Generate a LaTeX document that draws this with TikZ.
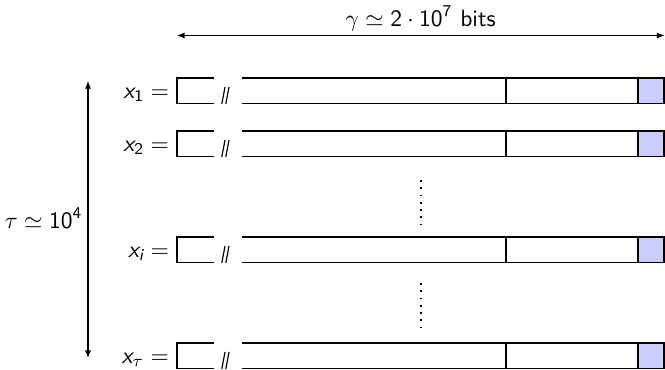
\documentclass[tikz,border=0pt]{standalone}
\usepackage{amsmath}
\usetikzlibrary{arrows.meta}
\newcommand\svar[1]{\text{\sffamily\itshape #1}}
\newcommand\drawrow[3]{%
  \fill[lastcell] (638,#1) rectangle (664,#1+25.5);
  \draw[rowline] (214,#1) -- (177,#1) -- (177,#1+25.5) -- (214,#1+25.5);
  \draw[rowline] (242,#1) -- (664,#1) -- (664,#1+25.5) -- (242,#1+25.5);
  \draw[rowline] (506,#1) -- (506,#1+25.5);
  \draw[rowline] (638,#1) -- (638,#1+25.5);
  \draw[slashline] (221.8,#1+26) -- (225,#1+9);
  \draw[slashline] (225.8,#1+26) -- (229,#1+9);
  \node[rowlabel] (#2-lab) at (169.5,#1+20) {#3};
}
\tikzset{
  rowline/.style={line width=0.75pt},
  slashline/.style={line width=0.5pt},
  dimarrow/.style={line width=0.45pt,{Latex[length=3.2pt,width=2.6pt]}-{Latex[length=3.2pt,width=2.6pt]}},
  vdots/.style={line width=0.75pt,dash pattern=on 0.75pt off 2.35pt},
  lastcell/.style={fill=blue!20},
  rowlabel/.style={inner sep=0pt,anchor=base east},
  toplabel/.style={inner sep=0pt,anchor=base,font=\sffamily}
}
\begin{document}
\begin{tikzpicture}[x=0.425pt,y=-0.425pt]
\useasboundingbox (0,0) rectangle (665,369);
\drawrow{78}{r1}{$\svar{x}_{\mathsf{1}} =$}
\drawrow{131}{r2}{$\svar{x}_{\mathsf{2}} =$}
\drawrow{237}{ri}{$\svar{x}_{\svar{i}} =$}
\drawrow{343}{rt}{$\svar{x}_{\tau} =$}
% vertical dots
\coordinate (d1a) at (421,180);
\coordinate (d1b) at (421,224);
\coordinate (d2a) at (421,283);
\coordinate (d2b) at (421,328);
\draw[vdots] (d1a) -- (d1b);
\draw[vdots] (d2a) -- (d2b);
% width arrow
\coordinate (wl) at (177,35.5);
\coordinate (wr) at (664.5,35.5);
\draw[dimarrow] (wl) -- (wr);
\node[toplabel] (wlab) at (420.5,26) {$\gamma \simeq \mathsf{2}\cdot\mathsf{10}^{\mathsf{7}}$ bits};
% height arrow
\coordinate (ht) at (88,81);
\coordinate (hb) at (88,358);
\draw[dimarrow] (ht) -- (hb);
\node[rowlabel] (hlab) at (83,228) {$\tau \simeq \mathsf{10}^{\mathsf{4}}$};
\end{tikzpicture}
\end{document}
